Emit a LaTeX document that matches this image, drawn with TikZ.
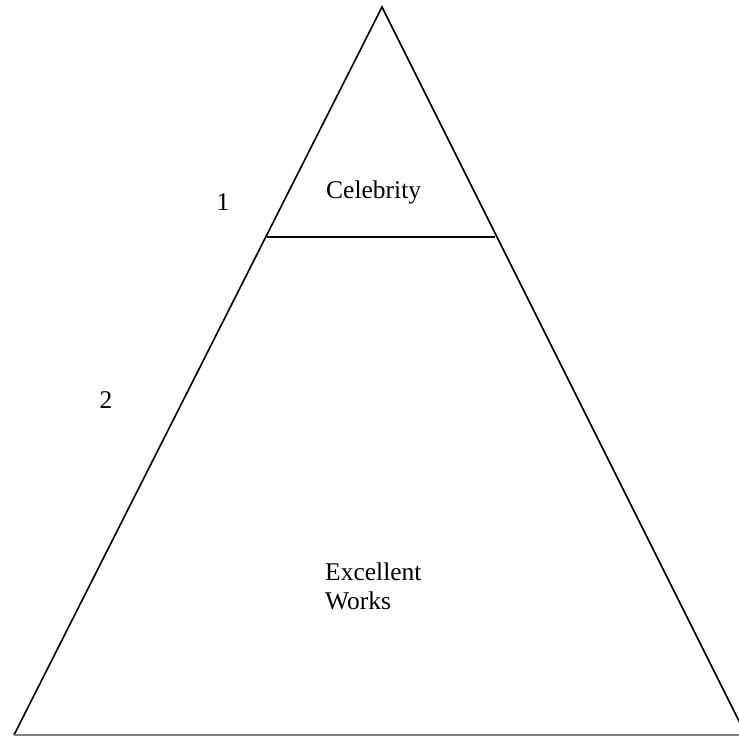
\documentclass[tikz,border=0pt]{standalone}
\usepackage{fontspec}
\setmainfont{Liberation Serif}
\begin{document}
\begin{tikzpicture}[x=1pt,y=-1pt,
  edge/.style={line width=1.6pt,black},
  lbl/.style={font=\fontsize{25.5}{30}\selectfont,inner sep=0pt}]
\useasboundingbox (0,0) rectangle (739,745);
\clip (0,0) rectangle (739,745);
\coordinate (apex) at (382,7);
\coordinate (bl) at (14,735);
\coordinate (br) at (746,735);
\coordinate (ml) at (266.5,237);
\coordinate (mr) at (495,237);
\coordinate (be) at (739,735);
\draw[edge,line join=miter] (bl) -- (apex) -- (br);
\draw[edge] (ml) -- (mr);
\draw[line width=1.6pt,gray] (bl) -- (be);
\node[lbl,anchor=base west] (celeb) at (326,198) {Celebrity};
\node[lbl,anchor=base] (one) at (223,210) {1};
\node[lbl,anchor=base] (two) at (106,408) {2};
\node[lbl,anchor=base west] (excl) at (325,580) {Excellent};
\node[lbl,anchor=base west] (works) at (325,609) {Works};
\end{tikzpicture}
\end{document}
